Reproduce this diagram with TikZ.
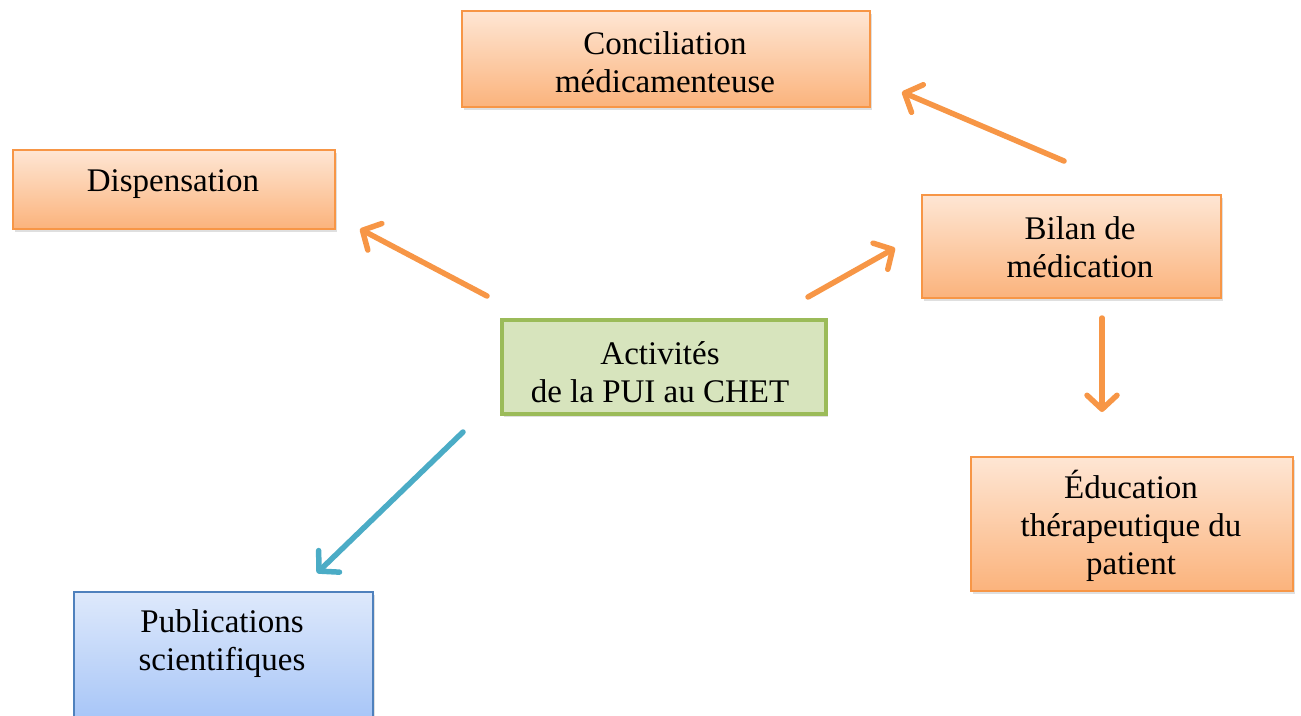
\documentclass[tikz,border=0pt]{standalone}
\usepackage{fontspec}
\setmainfont{Liberation Serif}
\usetikzlibrary{arrows.meta,shadows}
\definecolor{orbord}{HTML}{F79646}
\definecolor{ortop}{HTML}{FEE6D4}
\definecolor{orbot}{HTML}{FBB37C}
\definecolor{grfill}{HTML}{D7E4BD}
\definecolor{grbord}{HTML}{9BBB59}
\definecolor{bltop}{HTML}{DEE9FB}
\definecolor{blbot}{HTML}{A2C2F7}
\definecolor{blbord}{HTML}{4F81BD}
\definecolor{arrblue}{HTML}{4BACC6}
\tikzset{
  box/.style={rectangle, anchor=north west, inner sep=0pt,
    drop shadow={opacity=0.25, shadow xshift=2pt, shadow yshift=-3pt}},
  orbox/.style={box, draw=orbord, line width=1.8pt, top color=ortop, bottom color=orbot},
  grbox/.style={box, draw=grbord, line width=3.5pt, fill=grfill},
  blbox/.style={box, draw=blbord, line width=1.8pt, top color=bltop, bottom color=blbot},
  lbl/.style={align=center, inner sep=0pt, font=\fontsize{33}{38}\selectfont},
  arr/.style={line width=5.5pt, line cap=round, line join=round,
    -{Straight Barb[length=14pt, width=30pt, line width=5.5pt, round]}},
  oarr/.style={arr, draw=orbord},
  barr/.style={arr, draw=arrblue},
}
\begin{document}
\begin{tikzpicture}[x=1pt, y=-1pt]
\useasboundingbox (0,0) rectangle (1301,715);
% boxes
\node[orbox, minimum width=408pt, minimum height=96pt] (concb) at (461,10) {};
\node[lbl] (conc) at (665,62) {Conciliation\\médicamenteuse};
\node[orbox, minimum width=322pt, minimum height=79pt] (dispb) at (12,149) {};
\node[lbl] (disp) at (173,184) {Dispensation};
\node[orbox, minimum width=299pt, minimum height=103pt] (bilb) at (921,194) {};
\node[lbl] (bil) at (1080,247) {Bilan de\\médication};
\node[grbox, minimum width=324pt, minimum height=94pt] (actb) at (500,318) {};
\node[lbl] (act) at (660,372) {Activités\\de la PUI au CHET};
\node[orbox, minimum width=322pt, minimum height=134pt] (edub) at (970,456) {};
\node[lbl] (edu) at (1131,526) {Éducation\\thérapeutique du\\patient};
\node[blbox, minimum width=299pt, minimum height=140pt] (pubb) at (73,591) {};
\node[lbl] (pub) at (222,644) {Publications\\scientifiques};
% arrow end points
\coordinate (a1s) at (487,296); \coordinate (a1e) at (360,229);
\coordinate (a2s) at (1064,161); \coordinate (a2e) at (902,92);
\coordinate (a3s) at (808,297); \coordinate (a3e) at (895,248);
\coordinate (a4s) at (1102,318); \coordinate (a4e) at (1102,412);
\coordinate (a5s) at (463,432); \coordinate (a5e) at (317,573);
\draw[oarr] (a1s) -- (a1e);
\draw[oarr] (a2s) -- (a2e);
\draw[oarr] (a3s) -- (a3e);
\draw[oarr] (a4s) -- (a4e);
\draw[barr] (a5s) -- (a5e);
\end{tikzpicture}
\end{document}
